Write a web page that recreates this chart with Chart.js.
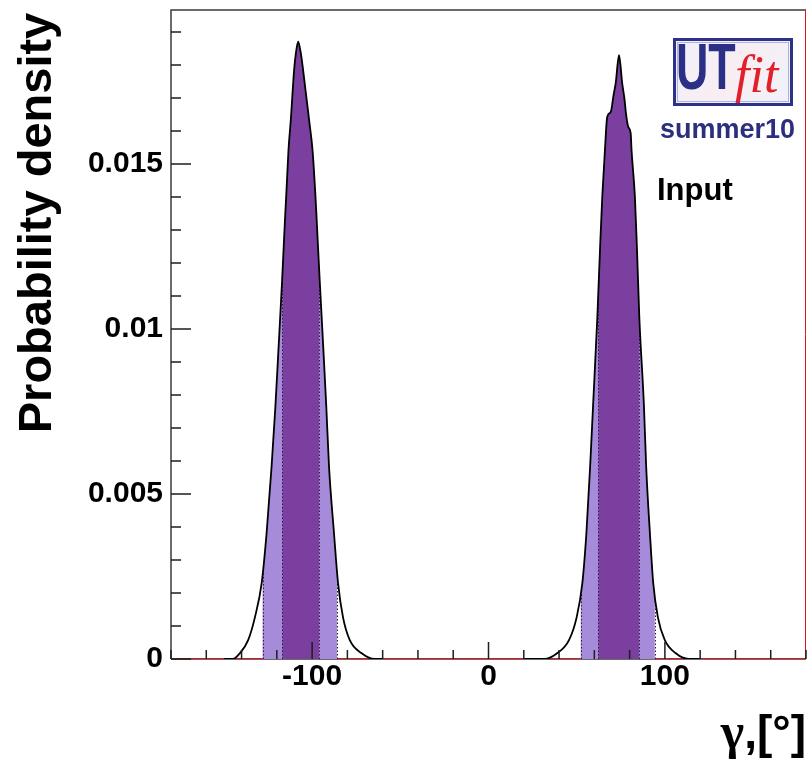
<!DOCTYPE html>
<html>
<head>
<meta charset="utf-8">
<script src="https://cdn.jsdelivr.net/npm/chart.js@4.4.1/dist/chart.umd.min.js"></script>
<style>
  html, body { margin: 0; padding: 0; background: #fff; }
  #wrap { width: 807px; height: 764px; position: relative; }
</style>
</head>
<body>
<div id="wrap"><canvas id="gamma"></canvas></div>
<script>
// gamma p.d.f., negative solution
const gammaLow = [-150, -144.9, -140.9, -136.2, -132.4, -128.6, -125.8, -123.0, -120.9, -119.1, -117.0, -115.4,
  -114.6, -113.4, -112.1, -110.2, -109.2, -107.9, -106.4, -105.1, -101.7, -99.75, -98.2, -97.4, -95.7, -93.6,
  -91.9, -90.4, -87.6, -85.3, -82.5, -78.7, -72.1, -64.6, -60];
const densityLow = [0, 0, 0.00018, 0.00058, 0.00127, 0.00230, 0.00382, 0.00582, 0.00758, 0.00936, 0.01148, 0.01330,
  0.01412, 0.01542, 0.01633, 0.01785, 0.01836, 0.01871, 0.01836, 0.01785, 0.01633, 0.01542, 0.01412, 0.01330, 0.01148, 0.00936,
  0.00758, 0.00582, 0.00382, 0.00230, 0.00127, 0.00058, 0.00018, 0, 0];

// gamma p.d.f., positive solution
const gammaHigh = [20, 31.6, 39.1, 45.7, 50.0, 53.2, 55.5, 57.6, 59.3, 61.7, 63.2, 64.5, 66.0, 67.3, 69.3, 70.9,
  72.1, 74.0, 75.8, 77.1, 77.9, 79.2, 80.6, 81.1, 83.0, 84.2, 85.5, 88.1, 89.4, 91.5, 93.4, 96.0, 99.9, 106.0, 113.5, 120];
const densityHigh = [0, 0, 0.00018, 0.00058, 0.00127, 0.00230, 0.00382, 0.00582, 0.00770, 0.01036, 0.01239, 0.01401, 0.01542, 0.01643, 0.01658, 0.01709,
  0.01745, 0.01830, 0.01745, 0.01697, 0.01655, 0.01613, 0.01594, 0.01542, 0.01401, 0.01239, 0.01036, 0.00770, 0.00582, 0.00382, 0.00230, 0.00127, 0.00058, 0.00018, 0, 0];

// probability intervals: [95%, 68%]
const bandsLow = [[-128.1, -85.9], [-116.8, -96.1]];
const bandsHigh = [[52.3, 94.3], [62.3, 85.3]];
const bandColors = ['#a58bd9', '#7b3fa0'];

const xRange = [-180, 180];
const xMajor = [-100, 0, 100];
const xMinor = [-180, -160, -140, -120, -80, -60, -40, -20, 20, 40, 60, 80, 120, 140, 160, 180];
const yRange = [0, 0.01967];
const yMajor = [0, 0.005, 0.01, 0.015];
const yMajorLabels = ['0', '0.005', '0.01', '0.015'];
const yMinor = [0.001, 0.002, 0.003, 0.004, 0.006, 0.007, 0.008, 0.009, 0.011, 0.012, 0.013, 0.014,
  0.016, 0.017, 0.018, 0.019];

const SANS = '"Liberation Sans", Arial, Helvetica, sans-serif';
const SERIF = '"Liberation Serif", "Times New Roman", serif';

const pts = (xs, ys) => xs.map((x, i) => ({ x, y: ys[i] }));

// fill under the curve inside each interval, then dotted interval edges
const bands = {
  id: 'bands',
  beforeDatasetDraw(chart, args) {
    const ds = chart.data.datasets[args.index];
    if (!ds.bands) return;
    const { ctx, chartArea: a, scales: { x, y } } = chart;
    const line = args.meta.dataset;
    const p = args.meta.data;
    const base = y.getPixelForValue(0);
    const region = () => {
      ctx.beginPath();
      line.path(ctx);
      ctx.lineTo(p[p.length - 1].x, base);
      ctx.lineTo(p[0].x, base);
      ctx.closePath();
    };
    ds.bands.forEach((b, i) => {
      const x0 = x.getPixelForValue(b[0]), x1 = x.getPixelForValue(b[1]);
      ctx.save();
      ctx.beginPath();
      ctx.rect(x0, a.top, x1 - x0, a.bottom - a.top);
      ctx.clip();
      region();
      ctx.fillStyle = bandColors[i];
      ctx.fill();
      ctx.restore();
    });
    ctx.save();
    region();
    ctx.clip();
    ctx.strokeStyle = '#2b1b3c';
    ctx.lineWidth = 1;
    ctx.setLineDash([1.5, 2]);
    ds.bands.flat().forEach(v => {
      const px = Math.round(x.getPixelForValue(v)) + 0.5;
      ctx.beginPath();
      ctx.moveTo(px, base);
      ctx.lineTo(px, a.top);
      ctx.stroke();
    });
    ctx.restore();
  }
};

const frame = {
  id: 'frame',
  beforeDatasetsDraw(chart) {
    const { ctx, chartArea: { left, top, right, bottom } } = chart;
    ctx.save();
    ctx.lineWidth = 1.5;
    ctx.strokeStyle = '#3a3a3a';
    ctx.beginPath();
    ctx.moveTo(left, bottom);
    ctx.lineTo(left, top);
    ctx.lineTo(right, top);
    ctx.moveTo(left, bottom);
    ctx.lineTo(right, bottom);
    ctx.stroke();
    ctx.strokeStyle = '#e0141e';
    ctx.lineWidth = 1;
    ctx.beginPath();
    ctx.moveTo(right - 0.5, top);
    ctx.lineTo(right - 0.5, bottom);
    ctx.stroke();
    ctx.restore();
  },
  afterDatasetsDraw(chart) {
    // ticks point into the plot
    const { ctx, chartArea: { left, bottom }, scales: { x, y } } = chart;
    ctx.save();
    ctx.strokeStyle = '#1e1e1e';
    ctx.lineWidth = 1.5;
    ctx.beginPath();
    const xt = (v, len) => { const px = x.getPixelForValue(v); ctx.moveTo(px, bottom); ctx.lineTo(px, bottom - len); };
    const yt = (v, len) => { const py = y.getPixelForValue(v); ctx.moveTo(left, py); ctx.lineTo(left + len, py); };
    xMajor.forEach(v => xt(v, 17));
    xMinor.forEach(v => xt(v, 9));
    yMajor.forEach(v => yt(v, 20));
    yMinor.forEach(v => yt(v, 10));
    ctx.stroke();
    ctx.restore();
  }
};

const labels = {
  id: 'labels',
  afterDraw(chart) {
    const { ctx } = chart;
    ctx.save();
    ctx.fillStyle = '#000';

    // axis titles
    ctx.save();
    ctx.translate(51, 223);
    ctx.rotate(-Math.PI / 2);
    ctx.font = `bold 47px ${SANS}`;
    ctx.textAlign = 'center';
    ctx.textBaseline = 'alphabetic';
    ctx.fillText('Probability density', 0, 0);
    ctx.restore();

    ctx.textBaseline = 'alphabetic';
    ctx.textAlign = 'right';
    ctx.font = `bold 46px ${SANS}`;
    const tail = ',[°]';
    ctx.fillText(tail, 806, 748);
    const tw = ctx.measureText(tail).width;
    ctx.font = `bold 50px ${SERIF}`;
    ctx.fillText('γ', 806 - tw, 748);

    // UTfit logo
    const bx = 673, by = 38, bw = 120, bh = 68;
    const g = ctx.createLinearGradient(bx, by, bx + bw, by + bh);
    g.addColorStop(0, '#f1f0fb');
    g.addColorStop(0.5, '#f8eef2');
    g.addColorStop(1, '#eef2fb');
    ctx.fillStyle = g;
    ctx.fillRect(bx, by, bw, bh);
    ctx.lineWidth = 3;
    ctx.strokeStyle = '#2d3188';
    ctx.strokeRect(bx + 1.5, by + 1.5, bw - 3, bh - 3);
    ctx.lineWidth = 1;
    ctx.strokeStyle = '#aab3e0';
    ctx.strokeRect(bx + 4.5, by + 4.5, bw - 9, bh - 9);

    ctx.save();
    ctx.translate(676, 89);
    ctx.scale(0.7, 1);
    ctx.font = `bold 64px ${SANS}`;
    ctx.textAlign = 'left';
    ctx.fillStyle = '#2b2f86';
    ctx.fillText('UT', 0, 0);
    ctx.restore();

    ctx.font = `italic 52px ${SERIF}`;
    ctx.fillStyle = '#e3202a';
    ctx.textAlign = 'left';
    ctx.fillText('fit', 735, 92);

    ctx.font = `bold 27px ${SANS}`;
    ctx.fillStyle = '#2b2f7e';
    ctx.fillText('summer10', 660, 138);

    ctx.font = `bold 31px ${SANS}`;
    ctx.fillStyle = '#000';
    ctx.fillText('Input', 657, 200);
    ctx.restore();
  }
};

const curve = (xs, ys, b) => ({
  data: pts(xs, ys),
  bands: b,
  showLine: true,
  borderColor: '#000',
  borderWidth: 1.8,
  pointRadius: 0,
  cubicInterpolationMode: 'monotone',
  fill: false
});

new Chart(document.getElementById('gamma'), {
  type: 'scatter',
  plugins: [bands, frame, labels],
  data: {
    datasets: [
      curve(gammaLow, densityLow, bandsLow),
      curve(gammaHigh, densityHigh, bandsHigh),
      {
        data: pts(xRange, [0, 0]),
        showLine: true,
        borderColor: '#e0141e',
        borderWidth: 2,
        pointRadius: 0
      }
    ]
  },
  options: {
    responsive: true,
    maintainAspectRatio: false,
    animation: false,
    layout: { padding: { top: 10, right: 1, left: 0, bottom: 0 } },
    plugins: { legend: { display: false }, tooltip: { enabled: false } },
    scales: {
      x: {
        type: 'linear',
        min: xRange[0],
        max: xRange[1],
        afterBuildTicks: s => { s.ticks = xMajor.map(value => ({ value })); },
        afterFit: s => { s.height = 105; s.paddingLeft = 0; s.paddingRight = 0; },
        grid: { display: false, drawTicks: false },
        border: { display: false },
        ticks: {
          padding: 0,
          maxRotation: 0,
          color: '#000',
          font: { family: SANS, size: 30, weight: 'bold' },
          callback: v => String(v)
        }
      },
      y: {
        type: 'linear',
        min: yRange[0],
        max: yRange[1],
        afterBuildTicks: s => { s.ticks = yMajor.map(value => ({ value })); },
        afterFit: s => { s.width = 171; s.paddingTop = 0; s.paddingBottom = 0; },
        grid: { display: false, drawTicks: false },
        border: { display: false },
        ticks: {
          padding: 8,
          color: '#000',
          font: { family: SANS, size: 30, weight: 'bold' },
          callback: (v, i) => yMajorLabels[i]
        }
      }
    }
  }
});
</script>
</body>
</html>
